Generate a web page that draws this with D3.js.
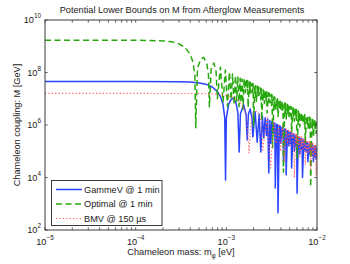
<!DOCTYPE html>
<html>
<head>
<meta charset="utf-8">
<script src="https://cdn.jsdelivr.net/npm/d3@7"></script>
<style>
  html, body { margin: 0; padding: 0; background: #fff; }
  svg { display: block; font-family: "Liberation Sans", Arial, sans-serif; }
</style>
</head>
<body>
<svg id="chart" width="350" height="264"></svg>
<script>
// Data: [mass (eV), M (GeV)]
const gammev = [
  [1e-5, 4.5e7], [1e-4, 4.5e7], [3e-4, 4.44e7], [4e-4, 4.3e7], [5e-4, 4.0e7],
  [6e-4, 3.54e7], [7e-4, 2.81e7], [8e-4, 1.86e7], [8.6e-4, 1.23e7], [9.2e-4, 6.0e6],
  [9.6e-4, 1.9e6], [9.8e-4, 8e3], [1.0e-3, 1.77e6], [1.06e-3, 6.2e6], [1.12e-3, 9.0e6],
  [1.2e-3, 1.05e7], [1.28e-3, 6.7e6], [1.34e-3, 3.0e6], [1.386e-3, 9.3e4], [1.43e-3, 2.6e6],
  [1.55e-3, 5.9e6], [1.65e-3, 2.5e6], [1.70e-3, 2.7e5], [1.75e-3, 2.5e6], [1.83e-3, 4.1e6],
  [1.92e-3, 1.75e6], [1.96e-3, 3.5e5], [2.08e-3, 3.2e6], [2.19e-3, 2.2e5], [2.3e-3, 2.6e6],
  [2.40e-3, 9.3e4], [2.5e-3, 2.2e6], [2.59e-3, 3.2e5], [2.68e-3, 1.9e6], [2.77e-3, 4e5],
  [2.86e-3, 1.69e6], [2.94e-3, 1.5e4], [3.02e-3, 1.5e6], [3.10e-3, 2e5], [3.18e-3, 1.36e6],
  [3.25e-3, 5e5], [3.35e-3, 1.22e6], [3.389e-3, 5e5], [3.428e-3, 1.17e6], [3.467e-3, 4e3],
  [3.589e-3, 1.07e6], [3.631e-3, 4e5], [3.673e-3, 1.03e6], [3.715e-3, 450],
  [3.846e-3, 9.3e5], [3.890e-3, 3.5e5], [3.936e-3, 8.9e5], [3.981e-3, 2e5],
  [4.121e-3, 8.1e5], [4.169e-3, 3.5e5], [4.217e-3, 7.8e5], [4.266e-3, 4e4],
  [4.416e-3, 7.0e5], [4.467e-3, 2.5e5], [4.519e-3, 6.7e5], [4.571e-3, 1.26e4],
  [4.732e-3, 6.1e5], [4.786e-3, 2.6e5], [4.842e-3, 5.9e5], [4.898e-3, 1.6e5],
  [5.070e-3, 5.3e5], [5.129e-3, 2e5], [5.188e-3, 5.1e5], [5.248e-3, 2.3e4],
  [5.433e-3, 4.7e5], [5.495e-3, 2e5], [5.559e-3, 4.5e5], [5.623e-3, 1e5],
  [5.821e-3, 4.1e5], [5.888e-3, 1.5e5], [5.957e-3, 3.9e5], [6.026e-3, 2.5e3],
  [6.237e-3, 3.5e5], [6.310e-3, 1.5e5], [6.383e-3, 3.4e5], [6.457e-3, 8e4],
  [6.683e-3, 3.1e5], [6.761e-3, 1.2e5], [6.839e-3, 3.0e5], [6.918e-3, 1e4],
  [7.161e-3, 2.7e5], [7.244e-3, 1.1e5], [7.328e-3, 2.6e5], [7.413e-3, 1e5],
  [7.674e-3, 2.3e5], [7.762e-3, 9e4], [7.852e-3, 2.2e5], [7.943e-3, 4e4],
  [8.222e-3, 2.0e5], [8.318e-3, 8e4], [8.414e-3, 1.9e5], [8.511e-3, 8e4],
  [8.810e-3, 1.8e5], [8.913e-3, 7e4], [9.016e-3, 1.7e5], [9.120e-3, 4e4],
  [9.441e-3, 1.54e5], [9.550e-3, 6e4], [9.661e-3, 1.48e5], [9.772e-3, 5e4],
  [1e-2, 1.37e5]
];

const optimal = [
  [1e-5, 1.7e9], [1e-4, 1.7e9], [2e-4, 1.6e9], [2.5e-4, 1.47e9], [3e-4, 1.24e9],
  [3.5e-4, 9.0e8], [4e-4, 5.0e8], [4.3e-4, 2.4e8], [4.5e-4, 7.6e7], [4.6e-4, 7.8e5],
  [4.8e-4, 1.37e8], [5.2e-4, 3.25e8], [5.63e-4, 3.8e8], [6.1e-4, 2.1e8], [6.35e-4, 8.2e7],
  [6.5e-4, 5.0e6], [6.8e-4, 1.39e8], [7.27e-4, 2.3e8], [7.7e-4, 1.13e8], [7.97e-4, 1.0e7],
  [8.6e-4, 1.6e8], [9.2e-4, 7.6e6], [9.76e-4, 1.25e8], [1.03e-3, 5.0e6], [1.08e-3, 1.02e8],
  [1.13e-3, 9.0e6], [1.17e-3, 8.7e7], [1.22e-3, 6.0e6], [1.26e-3, 7.6e7], [1.30e-3, 8.0e6],
  [1.34e-3, 6.8e7], [1.38e-3, 5.0e6], [1.42e-3, 6.1e7], [1.45e-3, 7.0e6], [1.49e-3, 5.6e7],
  [1.53e-3, 4.0e6],
  [1.567e-3, 5.8e7], [1.585e-3, 2.3e7], [1.603e-3, 5.5e7], [1.622e-3, 1.72e7],
  [1.679e-3, 5.1e7], [1.699e-3, 2.6e7], [1.718e-3, 4.9e7], [1.738e-3, 4.7e6],
  [1.799e-3, 4.42e7], [1.820e-3, 1.5e7], [1.841e-3, 4.2e7], [1.862e-3, 1.64e7],
  [1.928e-3, 3.85e7], [1.950e-3, 1.8e7], [1.973e-3, 3.7e7], [1.995e-3, 9.0e5],
  [2.065e-3, 3.36e7], [2.089e-3, 1.2e7], [2.113e-3, 3.2e7], [2.138e-3, 7.9e6],
  [2.213e-3, 2.92e7], [2.239e-3, 1.3e7], [2.265e-3, 2.8e7], [2.291e-3, 1.36e7],
  [2.371e-3, 2.55e7], [2.399e-3, 9e6], [2.427e-3, 2.45e7], [2.455e-3, 1.5e6],
  [2.541e-3, 2.21e7], [2.571e-3, 1.0e7], [2.600e-3, 2.1e7], [2.630e-3, 6.6e6],
  [2.723e-3, 1.94e7], [2.755e-3, 7e6], [2.786e-3, 1.85e7], [2.818e-3, 2.85e6],
  [2.917e-3, 1.69e7], [2.951e-3, 7.5e6], [2.985e-3, 1.62e7], [3.020e-3, 7.0e6],
  [3.126e-3, 1.46e7], [3.162e-3, 5.5e6], [3.199e-3, 1.4e7], [3.236e-3, 1.36e5],
  [3.350e-3, 1.2e7], [3.389e-3, 5.5e6], [3.428e-3, 1.15e7], [3.467e-3, 3.8e6],
  [3.589e-3, 1.05e7], [3.631e-3, 4e6], [3.673e-3, 1.0e7], [3.715e-3, 2.1e6],
  [3.846e-3, 9.0e6], [3.890e-3, 4e6], [3.936e-3, 8.6e6], [3.981e-3, 3.6e6],
  [4.121e-3, 7.8e6], [4.169e-3, 3e6], [4.217e-3, 7.4e6], [4.266e-3, 1.6e4],
  [4.416e-3, 6.9e6], [4.467e-3, 3e6], [4.519e-3, 6.6e6], [4.571e-3, 1.7e6],
  [4.732e-3, 6.0e6], [4.786e-3, 2.2e6], [4.842e-3, 5.7e6], [4.898e-3, 2.1e6],
  [5.070e-3, 5.2e6], [5.129e-3, 2.2e6], [5.188e-3, 5.0e6], [5.248e-3, 5.2e5],
  [5.433e-3, 4.6e6], [5.495e-3, 1.7e6], [5.559e-3, 4.4e6], [5.623e-3, 1.4e6],
  [5.821e-3, 4.0e6], [5.888e-3, 1.8e6], [5.957e-3, 3.8e6], [6.026e-3, 5.5e4],
  [6.237e-3, 3.4e6], [6.310e-3, 1.3e6], [6.383e-3, 3.25e6], [6.457e-3, 8.5e5],
  [6.683e-3, 3.0e6], [6.761e-3, 1.3e6], [6.839e-3, 2.85e6], [6.918e-3, 1.2e6],
  [7.161e-3, 2.6e6], [7.244e-3, 1.0e6], [7.328e-3, 2.5e6], [7.413e-3, 2.1e5],
  [7.674e-3, 2.2e6], [7.762e-3, 1.0e6], [7.852e-3, 2.1e6], [7.943e-3, 7.1e5],
  [8.222e-3, 2.0e6], [8.318e-3, 7.5e5], [8.414e-3, 1.9e6], [8.511e-3, 4.4e3],
  [8.810e-3, 1.75e6], [8.913e-3, 7.5e5], [9.016e-3, 1.68e6], [9.120e-3, 3.5e5],
  [9.441e-3, 1.55e6], [9.550e-3, 6e5], [9.661e-3, 1.48e6], [9.772e-3, 4.7e5],
  [1e-2, 1.35e6]
];

const bmv = [
  [1e-5, 1.6e7], [1e-4, 1.6e7], [5e-4, 1.58e7], [8e-4, 1.5e7], [1e-3, 1.35e7],
  [1.2e-3, 1.1e7], [1.4e-3, 7.6e6], [1.55e-3, 4.6e6], [1.68e-3, 1.9e6], [1.78e-3, 8.5e4],
  [1.88e-3, 1.6e6], [2.0e-3, 2.95e6], [2.18e-3, 3.4e6], [2.35e-3, 2.1e6], [2.45e-3, 8.8e5],
  [2.52e-3, 1.1e5], [2.81e-3, 2.04e6], [3.08e-3, 2.3e4], [3.33e-3, 1.45e6], [3.56e-3, 2e5],
  [3.78e-3, 1.13e6], [3.98e-3, 1e5], [4.17e-3, 9.3e5], [4.36e-3, 4e4], [4.54e-3, 7.8e5],
  [4.71e-3, 2e5], [4.87e-3, 6.8e5], [5.03e-3, 1.5e5], [5.19e-3, 6.0e5], [5.34e-3, 3e5],
  [5.49e-3, 5.3e5], [5.63e-3, 1e4],
  [5.821e-3, 4.75e5], [5.888e-3, 2e5], [5.957e-3, 4.5e5], [6.026e-3, 1.5e5],
  [6.237e-3, 4.1e5], [6.310e-3, 1.6e5], [6.383e-3, 3.9e5], [6.457e-3, 6e4],
  [6.683e-3, 3.6e5], [6.761e-3, 1.5e5], [6.839e-3, 3.4e5], [6.918e-3, 1.2e5],
  [7.161e-3, 3.1e5], [7.244e-3, 1.2e5], [7.328e-3, 3.0e5], [7.413e-3, 3e4],
  [7.674e-3, 2.7e5], [7.762e-3, 1.1e5], [7.852e-3, 2.6e5], [7.943e-3, 8e4],
  [8.222e-3, 2.4e5], [8.318e-3, 9e4], [8.414e-3, 2.3e5], [8.511e-3, 2e4],
  [8.810e-3, 2.1e5], [8.913e-3, 8e4], [9.016e-3, 2.0e5], [9.120e-3, 6e4],
  [9.441e-3, 1.8e5], [9.550e-3, 7e4], [9.661e-3, 1.7e5], [9.772e-3, 1.2e4],
  [1e-2, 1.6e5]
];

const xTicks = [1e-5, 1e-4, 1e-3, 1e-2];
const yTicks = [1e2, 1e4, 1e6, 1e8, 1e10];
const seriesNames = ['GammeV @ 1 min', 'Optimal @ 1 min', 'BMV @ 150 \u00b5s'];

// Layout
const m = { l: 45, r: 317, t: 20, b: 230 };
const fontSize = 9.2;
const supSize = 6.4;

const svg = d3.select('#chart');

const x = d3.scaleLog().domain([1e-5, 1e-2]).range([m.l, m.r]);
const y = d3.scaleLog().domain([1e2, 1e10]).range([m.b, m.t]);

svg.append('defs').append('clipPath').attr('id', 'plotclip')
  .append('rect')
  .attr('x', m.l).attr('y', m.t)
  .attr('width', m.r - m.l).attr('height', m.b - m.t);

const line = d3.line()
  .x(d => x(d[0]))
  .y(d => y(d[1]));

// Series styles
const styles = [
  { data: gammev, color: '#2a44ff', width: 1.5, dash: null },
  { data: optimal, color: '#26a80c', width: 1.5, dash: '6,3.5' },
  { data: bmv, color: '#ff5a5a', width: 1.1, dash: '1.2,2.2' }
];

const plot = svg.append('g').attr('clip-path', 'url(#plotclip)');
styles.forEach(s => {
  plot.append('path')
    .datum(s.data)
    .attr('d', line)
    .attr('fill', 'none')
    .attr('stroke', s.color)
    .attr('stroke-width', s.width)
    .attr('stroke-dasharray', s.dash)
    .attr('stroke-linejoin', 'round');
});

// Axes box
const axisColor = '#3a3a3a';
svg.append('rect')
  .attr('x', m.l).attr('y', m.t)
  .attr('width', m.r - m.l).attr('height', m.b - m.t)
  .attr('fill', 'none').attr('stroke', axisColor).attr('stroke-width', 1);

// Ticks (inward, on all four sides like MATLAB)
const tl = 2.7;
const xMinor = [];
xTicks.slice(0, -1).forEach(t => { for (let k = 2; k <= 9; k++) xMinor.push(t * k); });
const ticksG = svg.append('g').attr('stroke', axisColor).attr('stroke-width', 0.8);
xTicks.concat(xMinor).forEach(t => {
  const px = x(t);
  ticksG.append('line').attr('x1', px).attr('x2', px).attr('y1', m.b).attr('y2', m.b - tl);
  ticksG.append('line').attr('x1', px).attr('x2', px).attr('y1', m.t).attr('y2', m.t + tl);
});
yTicks.forEach(t => {
  const py = y(t);
  ticksG.append('line').attr('x1', m.l).attr('x2', m.l + tl).attr('y1', py).attr('y2', py);
  ticksG.append('line').attr('x1', m.r).attr('x2', m.r - tl).attr('y1', py).attr('y2', py);
});

// Tick labels as 10^n
const exp = t => Math.round(Math.log10(t));
const txtColor = '#1a1a1a';
xTicks.forEach(t => {
  const e = String(exp(t)).replace('-', '\u2212');
  const tx = svg.append('text')
    .attr('x', x(t)).attr('y', 245)
    .attr('text-anchor', 'middle')
    .attr('font-size', fontSize).attr('fill', txtColor);
  tx.append('tspan').text('10');
  tx.append('tspan').attr('dy', -5).attr('font-size', supSize).text(e);
});
yTicks.forEach(t => {
  const tx = svg.append('text')
    .attr('x', 41).attr('y', y(t) + 3.3)
    .attr('text-anchor', 'end')
    .attr('font-size', fontSize).attr('fill', txtColor);
  tx.append('tspan').text('10');
  tx.append('tspan').attr('dy', -5).attr('font-size', supSize).text(String(exp(t)));
});

// Title
svg.append('text')
  .attr('x', 182).attr('y', 13)
  .attr('text-anchor', 'middle')
  .attr('font-size', fontSize).attr('fill', txtColor)
  .text('Potential Lower Bounds on M from Afterglow Measurements');

// Axis labels
const xl = svg.append('text')
  .attr('x', (m.l + m.r) / 2).attr('y', 255)
  .attr('text-anchor', 'middle')
  .attr('font-size', fontSize).attr('fill', txtColor);
xl.append('tspan').text('Chameleon mass: m');
xl.append('tspan').attr('dy', 2.5).attr('font-size', supSize).text('\u03c6');
xl.append('tspan').attr('dy', -2.5).text(' [eV]');

svg.append('text')
  .attr('transform', `translate(20,${(m.t + m.b) / 2}) rotate(-90)`)
  .attr('text-anchor', 'middle')
  .attr('font-size', fontSize).attr('fill', txtColor)
  .text('Chameleon coupling: M [GeV]');

// Legend
const lg = svg.append('g');
lg.append('rect')
  .attr('x', 51.5).attr('y', 180.5).attr('width', 110.5).attr('height', 45)
  .attr('fill', '#fff').attr('stroke', axisColor).attr('stroke-width', 1);
styles.forEach((s, i) => {
  const ly = 189.5 + i * 14.5;
  lg.append('line')
    .attr('x1', 56).attr('x2', 82).attr('y1', ly).attr('y2', ly)
    .attr('stroke', s.color).attr('stroke-width', s.width)
    .attr('stroke-dasharray', s.dash);
  lg.append('text')
    .attr('x', 84).attr('y', ly + 3.3)
    .attr('font-size', fontSize).attr('fill', txtColor)
    .text(seriesNames[i]);
});
</script>
</body>
</html>
